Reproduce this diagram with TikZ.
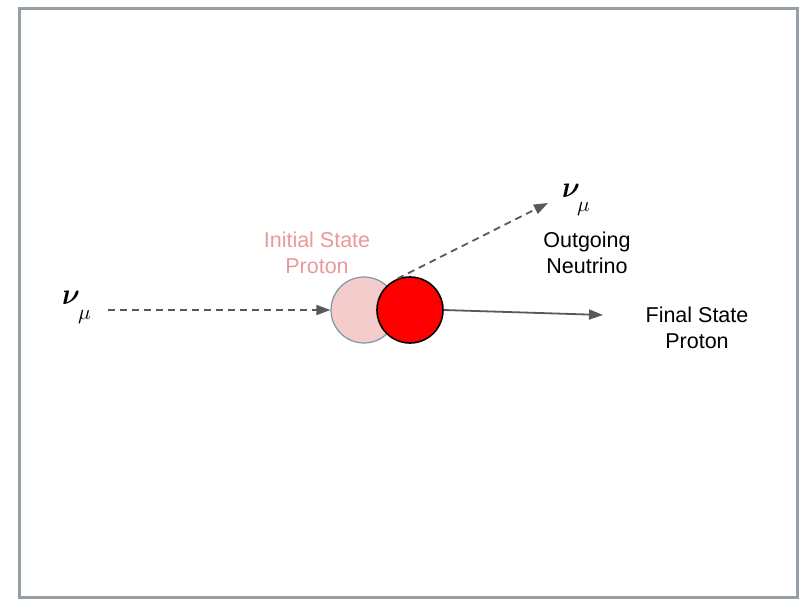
\documentclass[tikz,border=0pt]{standalone}
\usepackage{amsmath,bm,graphicx}
\usepackage{fontspec}
\setmainfont{Liberation Sans}
\usetikzlibrary{arrows.meta}
\definecolor{framegray}{RGB}{150,158,166}
\definecolor{linegray}{RGB}{89,89,89}
\definecolor{palered}{RGB}{244,204,204}
\definecolor{paleedge}{RGB}{125,150,165}
\definecolor{pinktext}{RGB}{234,153,153}
\begin{document}
\begin{tikzpicture}[x=1pt,y=-1pt,
  lbl/.style={font=\fontsize{21.5}{25.5}\selectfont, align=center, inner sep=0pt},
  nusym/.style={inner sep=0pt, anchor=base west},
  ptcl/.style={circle, minimum size=66pt, inner sep=0pt},
  flow/.style={draw=linegray, line width=1.8pt, -{Triangle[length=14pt,width=10pt]}},
  flowdash/.style={flow, dash pattern=on 7pt off 5pt}]
\useasboundingbox (0,0) rectangle (811,599);
% outer frame
\draw[framegray, line width=3pt] (19.5,8.5) rectangle (797.5,597.5);

% particles
\node[ptcl, fill=palered, draw=paleedge, line width=1.2pt] (init) at (364,310) {};
\node[ptcl, fill=red, draw=black, line width=1.6pt] (final) at (410,310) {};

% muon neutrino symbols: bold nu with a lowered mu
\node[nusym] (nuin) at (62,304) {\scalebox{2.75}[3.0]{$\bm{\nu}$}};
\node[nusym] (nuinsub) at (78,319) {\scalebox{2.1}{$\mu$}};
\node[nusym] (nuout) at (562,197) {\scalebox{2.75}[3.0]{$\bm{\nu}$}};
\node[nusym] (nuoutsub) at (577,211) {\scalebox{2.1}{$\mu$}};

% text labels
\node[lbl, text=pinktext] (initlbl) at (317,253) {Initial State\\Proton};
\node[lbl] (outlbl) at (587,253) {Outgoing\\Neutrino};
\node[lbl] (finlbl) at (697,328) {Final State\\Proton};

% tracks
\coordinate (instart) at (108,310);
\coordinate (outend) at (548,203);
\coordinate (finend) at (603,315);
\draw[flowdash] (instart) -- (init.west);
\draw[flowdash] (final.112) -- (outend);
\draw[flow] (final.east) -- (finend);
\end{tikzpicture}
\end{document}
